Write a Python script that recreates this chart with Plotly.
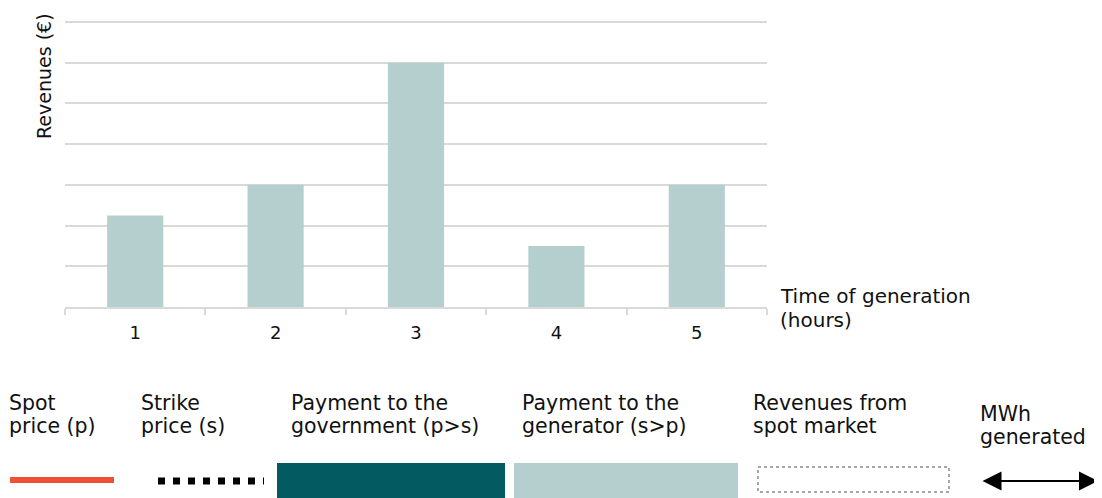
import plotly.graph_objects as go

# ---- data ----
hours = ["1", "2", "3", "4", "5"]
revenues = [2.25, 3.0, 6.0, 1.5, 3.0]
y_title = "Revenues (€)"
x_title_lines = ["Time of generation", "(hours)"]
legend_labels = [
    ["Spot", "price (p)"],
    ["Strike", "price (s)"],
    ["Payment to the", "government (p>s)"],
    ["Payment to the", "generator (s>p)"],
    ["Revenues from", "spot market"],
    ["MWh", "generated"],
]

# ---- style ----
BAR = "#b4cfcd"
DARK = "#035b61"
ORANGE = "#f05133"
GRID = "#d9d9d9"
FONT = "DejaVu Sans"
TXT = "#111111"

OFF = 8  # default page body margin
W, H = 1102 - OFF, 498 - OFF
# plot area in page pixels
L, R, T, B = 65, 767, 20, 307


def px(x):
    return (x - L) / (R - L)


def py(y):
    return (B - y) / (B - T)


fig = go.Figure()
fig.add_trace(go.Bar(x=hours, y=revenues, width=0.4,
                     marker=dict(color=BAR, line=dict(width=0)),
                     hoverinfo="skip"))

annotations = []
shapes = []

# y title
annotations.append(dict(text=y_title, x=px(44), y=py(76), xref="paper", yref="paper",
                        textangle=-90, showarrow=False, xanchor="center", yanchor="middle",
                        font=dict(family=FONT, size=19, color=TXT)))
# x title
for i, line in enumerate(x_title_lines):
    annotations.append(dict(text=line, x=px(778), y=py(296 + 24 * i), xref="paper", yref="paper",
                            showarrow=False, xanchor="left", yanchor="middle",
                            font=dict(family=FONT, size=20, color=TXT)))

# legend texts
legend_x = [7, 139, 289, 520, 751, 978]
legend_y0 = [403, 403, 403, 403, 403, 414]
for lbl, lx, ly in zip(legend_labels, legend_x, legend_y0):
    for i, line in enumerate(lbl):
        annotations.append(dict(text=line, x=px(lx), y=py(ly + 23 * i), xref="paper", yref="paper",
                                showarrow=False, xanchor="left", yanchor="middle",
                                font=dict(family=FONT, size=20.5, color=TXT)))

# legend swatches
shapes.append(dict(type="line", xref="paper", yref="paper", x0=px(10), x1=px(114), y0=py(480), y1=py(480),
                   line=dict(color=ORANGE, width=6)))
shapes.append(dict(type="line", xref="paper", yref="paper", x0=px(158), x1=px(264), y0=py(481), y1=py(481),
                   line=dict(color="#000000", width=7, dash="7px,8px")))
shapes.append(dict(type="rect", xref="paper", yref="paper", x0=px(277), x1=px(505), y0=py(463), y1=py(500),
                   fillcolor=DARK, line=dict(width=0)))
shapes.append(dict(type="rect", xref="paper", yref="paper", x0=px(514), x1=px(738), y0=py(463), y1=py(500),
                   fillcolor=BAR, line=dict(width=0)))
shapes.append(dict(type="rect", xref="paper", yref="paper", x0=px(758), x1=px(949), y0=py(467), y1=py(492),
                   fillcolor="rgba(0,0,0,0)", line=dict(color="#a6a6a6", width=2, dash="dot")))
annotations.append(dict(text="", x=px(1098), y=py(481), xref="paper", yref="paper",
                        ax=-117, ay=0, showarrow=True, arrowhead=2, arrowside="end+start",
                        arrowsize=1.9, arrowwidth=2, arrowcolor="#000000"))

fig.update_layout(
    width=W, height=H, autosize=False,
    margin=dict(l=L - OFF, r=W + OFF - R, t=T - OFF, b=H + OFF - B, pad=0),
    paper_bgcolor="white", plot_bgcolor="white",
    showlegend=False, bargap=0.6,
    font=dict(family=FONT, size=17, color=TXT),
    xaxis=dict(type="category", tickson="boundaries", ticks="outside", ticklen=6,
               tickcolor=GRID, tickwidth=1.5, showline=True, linecolor=GRID, linewidth=1.5,
               showgrid=False, tickfont=dict(family=FONT, size=18, color=TXT),
               ticklabelstandoff=9,
               range=[-0.5, 4.5], fixedrange=True),
    yaxis=dict(range=[0, 7.05], dtick=1, showgrid=True, gridcolor=GRID, gridwidth=1.5,
               showticklabels=False, zeroline=False, showline=False, ticks="", fixedrange=True),
    annotations=annotations, shapes=shapes,
)

fig.write_html("out.html")
